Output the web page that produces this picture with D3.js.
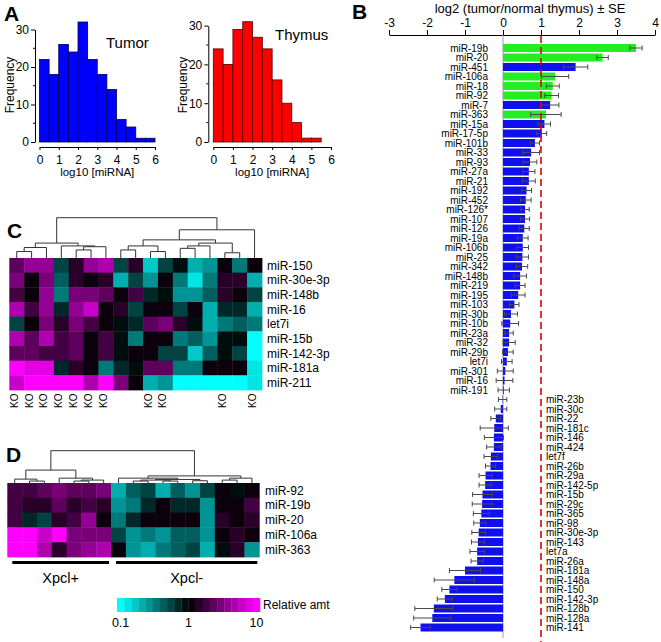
<!DOCTYPE html>
<html>
<head>
<meta charset="utf-8">
<script src="https://cdn.jsdelivr.net/npm/d3@7"></script>
<style>
  body { margin: 0; background: #fff; }
  svg { display: block; font-family: "Liberation Sans", Arial, sans-serif; }
</style>
</head>
<body>
<div id="fig"></div>
<script>
// ---- panel A : histograms of log10 [miRNA] ----
const binWidth = 0.5;
const tumorFreq = [22, 18, 26, 24, 32, 22, 18, 14, 6, 4, 1, 1];
const thymusFreq = [24, 20, 29, 31, 27, 24, 16, 10, 5, 1, 1];
const histXTicks = [0, 1, 2, 3, 4, 5, 6];
const histYTicks = [0, 10, 20, 30];
const histYMinor = [5, 15, 25];

// ---- panel B : log2 tumor / normal thymus ----
const mirNames = ["miR-19b","miR-20","miR-451","miR-106a","miR-18","miR-92","miR-7","miR-363",
  "miR-15a","miR-17-5p","miR-101b","miR-33","miR-93","miR-27a","miR-21","miR-192","miR-452",
  "miR-126*","miR-107","miR-126","miR-19a","miR-106b","miR-25","miR-342","miR-148b","miR-219",
  "miR-195","miR-103","miR-30b","miR-10b","miR-23a","miR-32","miR-29b","let7i","miR-301","miR-16",
  "miR-191","miR-23b","miR-30c","miR-22","miR-181c","miR-146","miR-424","let7f","miR-26b",
  "miR-29a","miR-142-5p","miR-15b","miR-29c","miR-365","miR-98","miR-30e-3p","miR-143","let7a",
  "miR-26a","miR-181a","miR-148a","miR-150","miR-142-3p","miR-128b","miR-128a","miR-141"];
const log2Ratio = [3.50, 2.62, 1.91, 1.37, 1.31, 1.28, 1.24, 1.13, 1.09, 1.02,
  0.84, 0.74, 0.71, 0.68, 0.68, 0.62, 0.60, 0.58, 0.58, 0.56,
  0.52, 0.52, 0.51, 0.50, 0.45, 0.45, 0.40, 0.30, 0.21, 0.19,
  0.16, 0.16, 0.13, 0.10, 0.06, 0.04, 0.02, -0.01, -0.06, -0.19,
  -0.23, -0.24, -0.24, -0.32, -0.33, -0.46, -0.47, -0.54, -0.55, -0.57,
  -0.61, -0.64, -0.66, -0.68, -0.68, -1.00, -1.28, -1.41, -1.53, -1.82,
  -1.86, -2.17];
const ratioSE = [0.16, 0.15, 0.32, 0.36, 0.17, 0.18, 0.23, 0.40, 0.16, 0.13,
  0.12, 0.22, 0.18, 0.16, 0.17, 0.13, 0.14, 0.11, 0.12, 0.13,
  0.14, 0.15, 0.16, 0.15, 0.17, 0.13, 0.18, 0.12, 0.17, 0.22,
  0.11, 0.16, 0.14, 0.14, 0.21, 0.22, 0.15, 0.11, 0.16, 0.13,
  0.37, 0.25, 0.19, 0.18, 0.13, 0.17, 0.16, 0.26, 0.26, 0.21,
  0.16, 0.18, 0.17, 0.19, 0.16, 0.41, 0.53, 0.20, 0.20, 0.50,
  0.49, 0.26];
const clusterMirs = ["miR-19b", "miR-20", "miR-106a", "miR-18", "miR-92", "miR-363"];
const ratioTicks = [-3, -2, -1, 0, 1, 2, 3, 4];

// ---- panel C : heatmap (log10 relative amount) ----
const cRows = ["miR-150","miR-30e-3p","miR-148b","miR-16","let7i","miR-15b","miR-142-3p","miR-181a","miR-211"];
const cKO = [0, 1, 2, 3, 4, 5, 6, 9, 10, 14, 16];
const cLog = [
  [0.35, 0.55, 0.55, -0.3, 0.15, 0.55, 0.7, -0.3, 0.12, -0.8, -0.3, -0.05, -0.65, -0.55, 0, -0.45, 0],
  [0.45, 0.05, 0.45, -0.35, 0.15, 0.05, 0.15, -0.65, -0.25, -0.55, 0.1, -0.45, -0.9, -0.5, 0.15, 0.15, -0.7],
  [0.25, 0.02, 0.6, -0.45, 0.45, 0.45, 0.4, 0, 0.25, -0.15, -0.1, -0.55, -0.55, -0.35, 0.2, 0.05, -0.25],
  [0.65, 0.3, 0.6, -0.12, 0.55, 0.8, 0, 0.12, -0.3, 0, 0.1, -0.3, 0.1, -0.65, -0.15, -0.15, -0.65],
  [-0.3, 0.05, 0.45, 0.2, 0.5, 0.3, 0, -0.1, -0.2, 0.35, 0.45, 0.2, -0.1, -0.7, -0.5, -0.35, -0.45],
  [0.65, 0.35, 0.7, 0.3, 0.4, 0, 0.25, -0.1, -0.45, 0.03, 0.1, -0.5, -0.4, -0.55, -0.08, -0.1, -1.0],
  [0.35, 0.35, 0.25, 0.3, 0.4, 0.1, 0.3, -0.05, 0, 0.1, -0.3, -0.25, -0.75, -0.35, -0.1, -0.25, -0.95],
  [1.0, 0.9, 0.85, -0.15, 0.2, 0.1, -0.45, -0.2, -0.1, 0.35, 0.35, -0.5, -0.5, 0, 0.1, 0, -0.85],
  [0.8, 1.0, 1.0, 1.0, 1.0, 0.7, 1.0, 0.5, 0, -0.65, -0.55, -1, -1, -1, -1, -1, -0.9]
];
// dendrogram: leaves are column indices, h is linkage distance (root = 1)
const cTree = {h: 1.0, c: [
  {h: 0.37, c: [
    {h: 0.26, c: [{h: 0.16, c: [0, 1]}, 2]},
    {h: 0.30, c: [3, {h: 0.28, c: [{h: 0.2, c: [4, 5]}, 6]}]}
  ]},
  {h: 0.70, c: [
    {h: 0.45, c: [
      {h: 0.30, c: [{h: 0.2, c: [7, 8]}, {h: 0.16, c: [9, 10]}]},
      {h: 0.37, c: [{h: 0.30, c: [{h: 0.24, c: [11, 12]}, 13]}, {h: 0.13, c: [14, 15]}]}
    ]},
    16
  ]}
]};

// ---- panel D : heatmap ----
const dRows = ["miR-92", "miR-19b", "miR-20", "miR-106a", "miR-363"];
const dLog = [
  [0.3, 0.25, 0.35, 0.45, 0.35, 0.35, 0.45, -0.65, -0.35, -0.3, -0.65, -0.4, -0.55, -0.3, 0.08, -0.08, 0],
  [0.3, 0.12, 0.15, 0.35, 0.2, 0.25, 0.15, -0.6, -0.5, -0.2, 0, -0.2, -0.15, -0.6, 0.02, 0.02, 0.3],
  [0.25, -0.15, -0.3, 0.15, 0.25, 0.55, 0, -0.45, -0.2, 0.08, 0.05, 0.03, 0.03, -0.55, 0.12, 0.05, 0.15],
  [0.95, 0.95, 0.8, 1.0, 0.5, 0.5, 0.5, -0.3, -0.6, -0.5, -0.6, -0.35, -0.35, -0.6, 0.02, 0.2, 0],
  [1.0, 1.0, 0.65, 0.2, 0.45, 0.6, 0.7, 0, -0.6, -0.65, -0.5, -0.35, -0.3, -0.7, -0.1, 0.2, -0.55]
];
const dTree = {h: 1.0, c: [
  {h: 0.40, c: [
    {h: 0.12, c: [0, {h: 0.06, c: [1, 2]}]},
    {h: 0.15, c: [3, {h: 0.09, c: [{h: 0.06, c: [4, 5]}, 6]}]}
  ]},
  {h: 0.22, c: [
    {h: 0.15, c: [7, {h: 0.11, c: [{h: 0.09, c: [{h: 0.06, c: [8, 9]}, {h: 0.06, c: [10, 11]}]}, {h: 0.07, c: [12, 13]}]}]},
    {h: 0.15, c: [{h: 0.09, c: [14, 15]}, 16]}
  ]}
]};
const dGroups = [{label: "Xpcl+", from: 0, to: 6}, {label: "Xpcl-", from: 7, to: 16}];
const colorSteps = 20;
const colorTicks = [0.1, 1, 10];

const nCols = 17;

const svg = d3.select("#fig").append("svg")
  .attr("width", 661)
  .attr("height", 642);

function styleAxis(g, size) {
  g.attr("font-family", null).attr("font-size", size);
  g.selectAll("path, line").attr("stroke", "#000");
}

// cyan (0.1) -> black (1) -> magenta (10), stepped like the original colour bar
function stepColor(i) {
  const t = -1 + 2 * i / (colorSteps - 1);
  return t < 0 ? d3.interpolateRgb("#000", "#00ffff")(-t) : d3.interpolateRgb("#000", "#ff00ff")(t);
}
const heatColor = v => stepColor(Math.round((Math.max(-1, Math.min(1, v)) + 1) * (colorSteps - 1) / 2));

// panel letters
svg.append("g").attr("font-weight", "bold").attr("font-size", 21)
  .selectAll("text")
  .data([["A", 4, 21], ["B", 352, 19], ["C", 7, 238], ["D", 6, 462]])
  .enter().append("text")
    .attr("x", d => d[1]).attr("y", d => d[2]).text(d => d[0]);

// ===== Panel A =====
function drawHist(freq, o) {
  const x = d3.scaleLinear().domain([0, 6]).range([o.x0, o.x1]);
  const y = d3.scaleLinear().domain([0, 30]).range([o.y0, o.y30]);
  const g = svg.append("g");

  g.selectAll("rect")
    .data(freq)
    .enter()
    .append("rect")
      .attr("x", (d, i) => x(i * binWidth))
      .attr("width", x(binWidth) - x(0))
      .attr("y", d => y(d))
      .attr("height", d => y(0) - y(d))
      .attr("fill", o.fill)
      .attr("stroke", o.edge)
      .attr("stroke-width", 0.8);

  const ya = g.append("g")
    .attr("transform", `translate(${o.yAxisX},0)`)
    .call(d3.axisLeft(y).tickValues(histYTicks).tickSize(4).tickPadding(2).tickSizeOuter(0));
  styleAxis(ya, 12);
  g.append("g")
    .attr("transform", `translate(${o.yAxisX},0)`)
    .selectAll("line").data(histYMinor).enter().append("line")
      .attr("x1", -2).attr("x2", 0)
      .attr("y1", d => y(d)).attr("y2", d => y(d))
      .attr("stroke", "#000");

  const xa = g.append("g")
    .attr("transform", `translate(0,${o.xAxisY})`)
    .call(d3.axisBottom(x).tickValues(histXTicks).tickFormat(d3.format("d"))
      .tickSize(3).tickPadding(5).tickSizeOuter(0));
  styleAxis(xa, 12);

  g.append("text")
    .attr("text-anchor", "middle")
    .attr("font-size", 11.5)
    .attr("x", (o.x0 + o.x1) / 2)
    .attr("y", 176)
    .text("log10 [miRNA]");

  g.append("text")
    .attr("text-anchor", "middle")
    .attr("font-size", 12)
    .attr("transform", `translate(${o.freqX},${85}) rotate(-90)`)
    .text("Frequency");

  g.append("text")
    .attr("font-size", 15)
    .attr("x", o.titleX)
    .attr("y", o.titleY)
    .text(o.title);
}

drawHist(tumorFreq, {x0: 39.5, x1: 155, y0: 142, y30: 29.5, yAxisX: 35, xAxisY: 147,
  fill: "#0000ff", edge: "#000050", freqX: 14, title: "Tumor", titleX: 106, titleY: 48});
drawHist(thymusFreq, {x0: 213.3, x1: 331, y0: 142, y30: 25.6, yAxisX: 208.3, xAxisY: 147,
  fill: "#ff0000", edge: "#500000", freqX: 187, title: "Thymus", titleX: 275, titleY: 40});

// ===== Panel B =====
const xB = d3.scaleLinear().domain([-3, 4]).range([389, 655]);
const yB = d3.scaleBand().domain(mirNames).range([43.25, 632.25]);
const rowsB = mirNames.map((name, i) => ({name: name, v: log2Ratio[i], se: ratioSE[i]}));

svg.append("text")
  .attr("text-anchor", "middle")
  .attr("font-size", 13)
  .attr("x", 530)
  .attr("y", 13)
  .text("log2 (tumor/normal thymus) \u00b1 SE");

const axB = svg.append("g")
  .attr("transform", "translate(0,35)")
  .call(d3.axisTop(xB).tickValues(ratioTicks).tickSize(5).tickPadding(3).tickSizeOuter(0)
    .tickFormat(d => d < 0 ? "-" + Math.abs(d) : d));
styleAxis(axB, 12);

svg.append("line")
  .attr("x1", xB(0)).attr("x2", xB(0))
  .attr("y1", 35).attr("y2", 638)
  .attr("stroke", "#9a9ab8");

svg.append("g")
  .selectAll("rect")
  .data(rowsB)
  .enter()
  .append("rect")
    .attr("x", d => xB(Math.min(0, d.v)))
    .attr("width", d => Math.abs(xB(d.v) - xB(0)))
    .attr("y", d => yB(d.name) + (yB.bandwidth() - 8) / 2)
    .attr("height", 8)
    .attr("fill", d => clusterMirs.includes(d.name) ? "#22ee22" : "#1010ee");

const err = svg.append("g").attr("stroke", "#4a4a4a").attr("stroke-width", 1);
rowsB.forEach(d => {
  const cy = yB(d.name) + yB.bandwidth() / 2;
  const a = xB(d.v - d.se), b = xB(d.v + d.se);
  err.append("path").attr("fill", "none")
    .attr("d", `M${a},${cy - 2.5}V${cy + 2.5}M${a},${cy}H${b}M${b},${cy - 2.5}V${cy + 2.5}`);
});

svg.append("line")
  .attr("x1", xB(1)).attr("x2", xB(1))
  .attr("y1", 36).attr("y2", 642)
  .attr("stroke", "#e00000")
  .attr("stroke-width", 1.6)
  .attr("stroke-dasharray", "7,4");

svg.append("g")
  .attr("font-size", 10)
  .selectAll("text")
  .data(rowsB)
  .enter()
  .append("text")
    .attr("x", d => d.v >= 0 ? xB(0) - 15 : xB(1) + 5)
    .attr("text-anchor", d => d.v >= 0 ? "end" : "start")
    .attr("y", d => yB(d.name) + yB.bandwidth() / 2)
    .attr("dy", "0.35em")
    .text(d => d.name);

// ===== Panels C and D (heatmaps with dendrograms) =====
function drawTree(g, node, x, y) {
  if (typeof node === "number") return {x: x(node) + x.bandwidth() / 2, y: y(0)};
  const kids = node.c.map(k => drawTree(g, k, x, y));
  const ny = y(node.h);
  const a = kids[0], b = kids[kids.length - 1];
  g.append("path")
    .attr("d", `M${a.x},${a.y}V${ny}H${b.x}V${b.y}`);
  return {x: (a.x + b.x) / 2, y: ny};
}

function drawHeat(rows, values, tree, o) {
  const x = d3.scaleBand().domain(d3.range(nCols)).range([o.x0, o.x1]);
  const y = d3.scaleBand().domain(rows).range([o.y0, o.y1]);
  const g = svg.append("g");
  rows.forEach((r, ri) => {
    g.selectAll(null)
      .data(values[ri])
      .enter()
      .append("rect")
        .attr("x", (d, ci) => x(ci))
        .attr("y", y(r))
        .attr("width", x.bandwidth() + 0.4)
        .attr("height", y.bandwidth() + 0.4)
        .attr("fill", d => heatColor(d));
  });
  g.append("g")
    .attr("font-size", 12)
    .selectAll("text")
    .data(rows)
    .enter()
    .append("text")
      .attr("x", o.labelX)
      .attr("y", d => y(d) + y.bandwidth() / 2)
      .attr("dy", "0.35em")
      .text(d => d);
  const tg = g.append("g").attr("fill", "none").attr("stroke", "#333").attr("stroke-width", 1);
  const ty = d3.scaleLinear().domain([0, 1]).range([o.y0, o.treeTop]);
  drawTree(tg, tree, x, ty);
  return x;
}

const xC = drawHeat(cRows, cLog, cTree, {x0: 9.3, x1: 262, y0: 258, y1: 390, labelX: 267, treeTop: 217.7});

svg.append("g")
  .attr("font-size", 10)
  .selectAll("text")
  .data(cKO)
  .enter()
  .append("text")
    .attr("transform", d => `translate(${xC(d) + xC.bandwidth() / 2 + 1},408) rotate(-90)`)
    .text("KO");

const xD = drawHeat(dRows, dLog, dTree, {x0: 7.3, x1: 259.3, y0: 483, y1: 557, labelX: 265, treeTop: 450.7});

const grp = svg.append("g");
grp.selectAll("line")
  .data(dGroups)
  .enter()
  .append("line")
    .attr("x1", d => xD(d.from) + 5)
    .attr("x2", d => xD(d.to) + xD.bandwidth() - 2)
    .attr("y1", 562.5).attr("y2", 562.5)
    .attr("stroke", "#000")
    .attr("stroke-width", 3);
grp.selectAll("text")
  .data(dGroups)
  .enter()
  .append("text")
    .attr("text-anchor", "middle")
    .attr("font-size", 14.5)
    .attr("x", d => (xD(d.from) + 5 + xD(d.to) + xD.bandwidth() - 2) / 2)
    .attr("y", 582.5)
    .text(d => d.label);

// colour bar
const cb = d3.scaleBand().domain(d3.range(colorSteps)).range([117, 260]);
const cbLog = d3.scaleLog().domain([0.1, 10]).range([117 + cb.bandwidth() / 2, 260 - cb.bandwidth() / 2]);
svg.append("g")
  .selectAll("rect")
  .data(d3.range(colorSteps))
  .enter()
  .append("rect")
    .attr("x", d => cb(d))
    .attr("y", 598)
    .attr("width", cb.bandwidth() + 0.3)
    .attr("height", 14)
    .attr("fill", d => stepColor(d));
svg.append("g")
  .attr("font-size", 12.5)
  .attr("text-anchor", "middle")
  .selectAll("text")
  .data(colorTicks)
  .enter()
  .append("text")
    .attr("x", d => cbLog(d))
    .attr("y", 627)
    .text(d => d);
svg.append("text")
  .attr("font-size", 12)
  .attr("x", 263)
  .attr("y", 609)
  .text("Relative amt");
</script>
</body>
</html>
